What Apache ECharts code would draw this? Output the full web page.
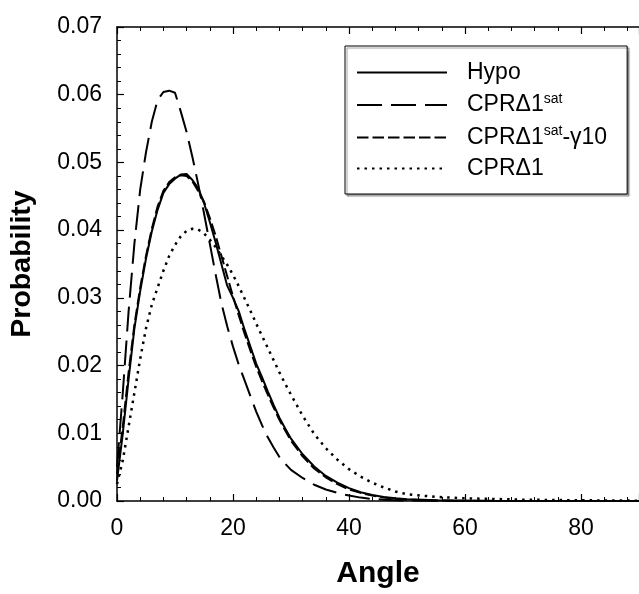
<!DOCTYPE html>
<html>
<head>
<meta charset="utf-8">
<script src="https://cdn.jsdelivr.net/npm/echarts@6/dist/echarts.min.js"></script>
<style>
  html, body { margin: 0; padding: 0; background: #fff; }
  #chart { width: 639px; height: 594px; }
</style>
</head>
<body>
<div id="chart"></div>
<script>
// ---- data ----
const angles = [0,1,2,3,4,5,6,7,8,9,10,11,12,13,14,15,16,17,18,19,20,21,22,23,24,25,26,27,28,29,30,
  32,34,36,38,40,42,44,46,48,50,55,60,65,70,75,80,85,90];

const hypo = [0.003,0.010,0.018,0.0255,0.031,0.0358,0.0398,0.0430,0.0455,0.0468,0.0476,0.0482,0.0483,0.0474,0.0462,0.0440,0.0412,0.0382,0.0350,0.0318,0.0300,0.0280,0.0253,0.0228,0.0203,0.0183,0.0162,0.0142,0.0123,0.0107,0.0092,
  0.0069,0.0051,0.0037,0.0027,0.0019,0.0013,0.0009,0.0006,0.0004,0.00025,0.0001,0.00005,0.00002,0.00001,0,0,0,0];

const cprSat = [0.005,0.016,0.028,0.038,0.046,0.0515,0.0560,0.0592,0.0604,0.0606,0.0603,0.0575,0.0545,0.0508,0.0468,0.0425,0.0380,0.0335,0.0292,0.0258,0.0228,0.0201,0.0178,0.0155,0.0132,0.0112,0.0094,0.0079,0.0065,0.0055,0.0046,
  0.0034,0.0024,0.0017,0.0012,0.0008,0.0005,0.0003,0.0002,0.0001,0.00007,0.00003,0.00001,0,0,0,0,0,0];

const cprSatG10 = [0.004,0.011,0.019,0.026,0.0315,0.0362,0.0402,0.0435,0.0458,0.0471,0.0478,0.0481,0.0480,0.0472,0.0458,0.0442,0.0418,0.0392,0.0362,0.0332,0.0302,0.0274,0.0247,0.0222,0.0198,0.0177,0.0157,0.0138,0.0120,0.0104,0.0089,
  0.0066,0.0048,0.0035,0.0025,0.0017,0.0012,0.0008,0.0005,0.0003,0.0002,0.00008,0.00003,0.00001,0,0,0,0,0];

const cpr = [0.0025,0.006,0.011,0.016,0.021,0.0255,0.0290,0.0315,0.0340,0.0362,0.0378,0.0391,0.0399,0.0402,0.0401,0.0395,0.0386,0.0375,0.0362,0.0349,0.0334,0.0317,0.0299,0.0281,0.0262,0.0244,0.0226,0.0208,0.0190,0.0173,0.0157,
  0.0126,0.0099,0.0078,0.0061,0.0047,0.0036,0.0027,0.0020,0.0014,0.0010,0.0006,0.0004,0.0003,0.0002,0.00015,0.0001,0.00008,0.00005];

const seriesNames = ['Hypo', 'CPRΔ1sat', 'CPRΔ1sat-γ10', 'CPRΔ1'];
const legendLabels = ['{t|Hypo}', '{t|CPRΔ1}{sup|sat}', '{t|CPRΔ1}{sup|sat}{t|-γ10}', '{t|CPRΔ1}'];
const yTicks = [0, 0.01, 0.02, 0.03, 0.04, 0.05, 0.06, 0.07];
const xTicks = [0, 20, 40, 60, 80];

// ---- chart ----
const FONT = "'Liberation Sans', Arial, Helvetica, sans-serif";
function pairs(ys) { return angles.map((a, i) => [a, ys[i]]); }

const chart = echarts.init(document.getElementById('chart'), null, { renderer: 'canvas' });

const axisCommon = {
  axisLine: { show: true, onZero: false, lineStyle: { color: '#000', width: 1.5 } },
  axisTick: { show: true, inside: true, length: 7, lineStyle: { color: '#000', width: 1.2 } },
  minorTick: { show: true, splitNumber: 5, length: 4, lineStyle: { color: '#000', width: 1 } },
  splitLine: { show: false },
  minorSplitLine: { show: false }
};

const styles = [
  { type: 'solid', width: 2 },
  { type: [25, 9], width: 2 },
  { type: [11.5, 4], width: 2 },
  { type: [2.5, 5], width: 2.5, cap: 'butt' }
];
const dataSets = [hypo, cprSat, cprSatG10, cpr];

chart.setOption({
  animation: false,
  backgroundColor: '#fff',
  textStyle: { fontFamily: FONT },
  grid: { left: 117, top: 27, right: -6, bottom: 91, containLabel: false },
  legend: {
    orient: 'vertical',
    left: 345,
    top: 46,
    padding: [15, 20, 14, 11],
    itemWidth: 90,
    itemHeight: 14,
    itemGap: 8,
    borderColor: '#000',
    borderWidth: 1,
    backgroundColor: '#fff',
    shadowColor: 'rgba(0,0,0,0.4)',
    shadowOffsetX: 2,
    shadowOffsetY: 2,
    shadowBlur: 1,
    selectedMode: false,
    itemStyle: { opacity: 0 },
    lineStyle: { width: 2 },
    data: seriesNames,
    formatter: function (name) { return legendLabels[seriesNames.indexOf(name)]; },
    textStyle: {
      fontFamily: FONT,
      fontSize: 23,
      color: '#000',
      padding: [0, 0, 0, 15],
      rich: {
        t: { fontFamily: FONT, fontSize: 23, lineHeight: 26, color: '#000' },
        sup: { fontFamily: FONT, fontSize: 14, lineHeight: 12, verticalAlign: 'top', color: '#000' }
      }
    }
  },
  xAxis: [
    Object.assign({
      type: 'value', position: 'bottom', min: 0, max: 90, interval: 20,
      name: 'Angle', nameLocation: 'middle', nameGap: 58,
      nameTextStyle: { fontFamily: FONT, fontSize: 30, fontWeight: 'bold', color: '#000' },
      axisLabel: { show: true, margin: 16, fontFamily: FONT, fontSize: 23, color: '#000',
        showMaxLabel: false,
        formatter: v => (xTicks.indexOf(v) >= 0 ? String(v) : '') }
    }, axisCommon),
    Object.assign({
      type: 'value', position: 'top', min: 0, max: 90, interval: 20,
      axisLabel: { show: false }
    }, axisCommon)
  ],
  yAxis: [
    Object.assign({
      type: 'value', position: 'left', min: 0, max: 0.07, interval: 0.01,
      name: 'Probability', nameLocation: 'middle', nameGap: 80, nameRotate: 90,
      nameTextStyle: { fontFamily: FONT, fontSize: 28.5, fontWeight: 'bold', color: '#000' },
      axisLabel: { show: true, margin: 15, fontFamily: FONT, fontSize: 23, color: '#000',
        formatter: v => {
          const t = yTicks.find(k => Math.abs(k - v) < 1e-9);
          return t === undefined ? '' : t.toFixed(2);
        } }
    }, axisCommon)
  ],
  series: seriesNames.map((n, i) => ({
    name: n,
    type: 'line',
    xAxisIndex: 0,
    yAxisIndex: 0,
    data: pairs(dataSets[i]),
    symbol: 'none',
    smooth: false,
    clip: true,
    lineStyle: Object.assign({ color: '#000' }, styles[i]),
    itemStyle: { color: '#000' },
    z: 3 + i
  }))
});
</script>
</body>
</html>
